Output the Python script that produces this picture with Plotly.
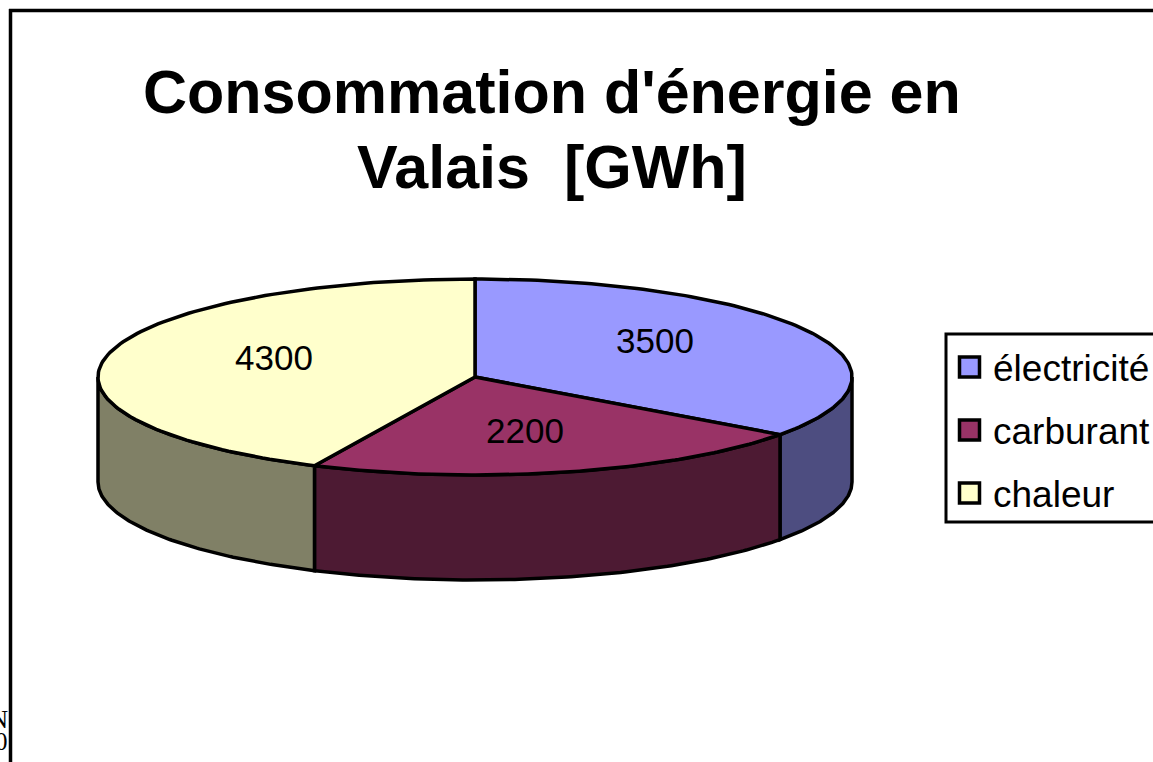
import numpy as np
import plotly.graph_objects as go

categories = ["électricité", "carburant", "chaleur"]
values = [3500, 2200, 4300]
top_colors = ["#9999FF", "#993366", "#FFFFCC"]
side_colors = ["#4D4D80", "#4D1A33", "#808066"]
label_x = [655, 525, 274]
label_y = [344, 434, 361]
legend_y = [367, 430, 493]

# pie geometry, in page pixels
cx, cy = 475, 377
rx, ry = 377, 98
depth = 105


def rim(a0, a1):
    # angles clockwise from 12 o'clock
    a = np.radians(np.linspace(a0, a1, 120))
    return cx + rx * np.sin(a), cy - ry * np.cos(a)


shares = np.array(values) / sum(values) * 360
ends = np.cumsum(shares)
starts = ends - shares

fig = go.Figure()

# side walls first, only the front half of the pie shows
for s, e, col in zip(starts, ends, side_colors):
    a0, a1 = max(s, 90), min(e, 270)
    if a0 >= a1:
        continue
    x, y = rim(a0, a1)
    fig.add_trace(go.Scatter(
        x=np.r_[x, x[::-1], x[0]], y=np.r_[y, y[::-1] + depth, y[0]],
        mode="lines", fill="toself", fillcolor=col,
        line=dict(color="black", width=3.5), hoverinfo="skip"))

# top faces
for s, e, col in zip(starts, ends, top_colors):
    x, y = rim(s, e)
    fig.add_trace(go.Scatter(
        x=np.r_[cx, x, cx], y=np.r_[cy, y, cy],
        mode="lines", fill="toself", fillcolor=col,
        line=dict(color="black", width=3.5), hoverinfo="skip"))

fig.add_trace(go.Scatter(
    x=label_x, y=label_y, mode="text", text=[str(v) for v in values],
    textfont=dict(family="Liberation Sans", size=35, color="black"), hoverinfo="skip"))

# legend box runs off the right edge of the page
fig.add_shape(type="rect", x0=946, x1=1175, y0=334, y1=522,
              line=dict(color="black", width=3), fillcolor="white", layer="below")
fig.add_trace(go.Scatter(
    x=[969.5] * 3, y=legend_y, mode="markers",
    marker=dict(symbol="square", size=20, color=top_colors, line=dict(color="black", width=3.5)),
    hoverinfo="skip"))
for name, ly in zip(categories, legend_y):
    fig.add_annotation(x=991, y=ly + 1, text=name, showarrow=False, xanchor="left",
                       font=dict(family="Liberation Sans", size=37, color="black"))

# page frame
fig.add_shape(type="line", x0=10.5, x1=10.5, y0=9, y1=770, line=dict(color="black", width=3.5))
fig.add_shape(type="line", x0=9, x1=1160, y0=10.5, y1=10.5, line=dict(color="black", width=3.5))

fig.add_annotation(x=552, y=92, text="Consommation d'énergie en", showarrow=False,
                   font=dict(family="Liberation Sans", size=61, color="black", weight="bold"))
fig.add_annotation(x=552, y=167, text="Valais  [GWh]", showarrow=False,
                   font=dict(family="Liberation Sans", size=61, color="black", weight="bold"))

# clipped page text at the bottom left
fig.add_annotation(x=10, y=719, text="N", showarrow=False, xanchor="right",
                   font=dict(family="Liberation Serif", size=25, color="black"))
fig.add_annotation(x=10, y=741, text="0", showarrow=False, xanchor="right",
                   font=dict(family="Liberation Serif", size=25, color="black"))

fig.update_layout(
    width=1153, height=762, showlegend=False,
    margin=dict(l=0, r=0, t=0, b=0),
    paper_bgcolor="white", plot_bgcolor="white",
    xaxis=dict(range=[0, 1153], visible=False, fixedrange=True),
    yaxis=dict(range=[762, 0], visible=False, fixedrange=True),
)
# default body margin would push the plot 8px in
fig.write_html("out.html", config=dict(displayModeBar=False),
               post_script="document.body.style.margin='0';document.body.style.overflow='hidden';")
